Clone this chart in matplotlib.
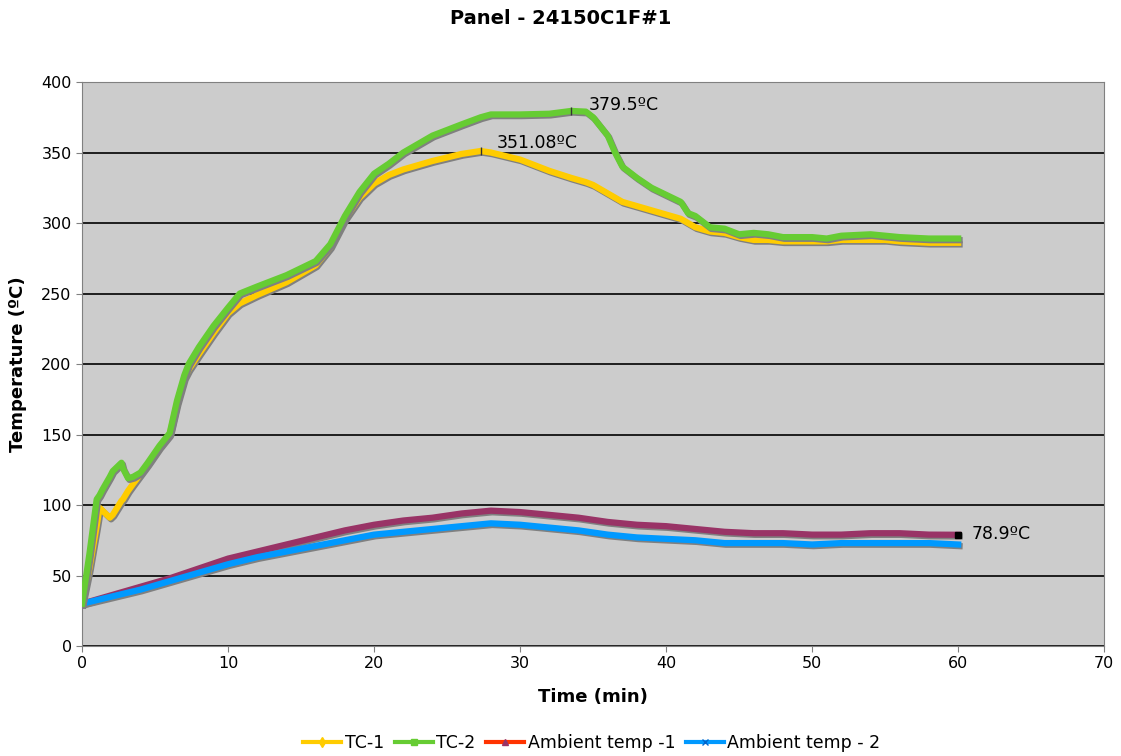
import matplotlib.pyplot as plt
import matplotlib.patheffects as pe
from matplotlib.lines import Line2D

# time (min) and temperatures
t_tc = [0, 0.5, 1.0, 1.2, 1.4, 1.9, 2.1, 2.4, 2.7, 2.8, 3.15, 3.5, 4.0, 4.5, 5.3, 6.0, 6.5, 7.0,
        7.3, 8, 9, 10, 10.8, 12, 14, 16, 17, 18, 19, 20, 21, 22, 24, 26, 27.3, 28, 30, 32,
        33.5, 34.5, 35, 36, 36.5, 37, 38, 39, 40, 41, 41.5, 42, 43, 44, 45, 46, 47, 48, 50,
        51, 52, 54, 55, 56, 58, 60]
tc1 = [30, 55, 85, 98, 96, 91, 93, 98, 103, 104, 110, 115, 122, 129, 141, 150, 172, 190,
       196, 207, 222, 236, 243, 249, 258, 270, 283, 303, 318, 328, 334, 338, 344, 349, 351.08, 350, 345, 337,
       332, 329, 327, 321, 318, 315, 312, 309, 306, 303, 300, 297, 294, 293, 290, 288, 288, 287, 287,
       287, 288, 288, 288, 287, 286, 286]
tc2 = [30, 65, 104, 107, 111, 120, 124, 127, 130, 126, 119, 120, 123, 130, 142, 151, 174, 192,
       200, 212, 227, 240, 250, 255, 263, 273, 285, 305, 322, 335, 342, 350, 362, 370, 375, 377, 377, 377.5,
       379.5, 379, 375, 362, 350, 340, 332, 325, 320, 315, 307, 305, 297, 296, 292, 293, 292, 290, 290,
       289, 291, 292, 291, 290, 289, 289]

t_amb = [0, 2, 4, 6, 8, 10, 12, 14, 16, 18, 20, 22, 24, 26, 28, 30, 32, 34, 36, 38, 40, 42,
         44, 46, 48, 50, 52, 54, 56, 58, 60]
amb1 = [30, 36, 42, 48, 55, 62, 67, 72, 77, 82, 86, 89, 91, 94, 96, 95, 93, 91, 88, 86, 85, 83,
        81, 80, 80, 79, 79, 80, 80, 79, 78.9]
amb2 = [30, 35, 40, 46, 52, 58, 63, 67, 71, 75, 79, 81, 83, 85, 87, 86, 84, 82, 79, 77, 76, 75,
        73, 73, 73, 72, 73, 73, 73, 73, 72]

fig = plt.figure(figsize=(11.21, 7.56), dpi=100)
ax = fig.add_axes([0.0732, 0.1455, 0.9118, 0.746])
ax.set_facecolor('#cccccc')

shadow = [pe.SimpleLineShadow(offset=(1, -1.2), shadow_color='#808080', alpha=1.0), pe.Normal()]
ax.plot(t_amb, amb1, color='#993366', lw=4.5, path_effects=shadow, zorder=3)
ax.plot(t_amb, amb2, color='#0099ff', lw=4.5, path_effects=shadow, zorder=4)
ax.plot(t_tc, tc1, color='#ffcc00', lw=4.5, path_effects=shadow, zorder=5)
ax.plot(t_tc, tc2, color='#66cc33', lw=4.5, path_effects=shadow, zorder=6)

# data labels
ax.plot([33.5], [379.5], marker='|', color='#333333', ms=6, zorder=7)
ax.text(34.7, 384, '379.5ºC', fontsize=12.5, va='center', zorder=8)
ax.plot([27.3], [351.08], marker='|', color='#333333', ms=6, zorder=7)
ax.text(28.4, 357, '351.08ºC', fontsize=12.5, va='center', zorder=8)
ax.plot([60], [79], marker='s', color='black', ms=5, zorder=7)
ax.text(60.9, 79.5, '78.9ºC', fontsize=12.5, va='center', zorder=8)

ax.set_xlim(0, 70)
ax.set_ylim(0, 400)
ax.set_xticks(range(0, 71, 10))
ax.set_yticks(range(0, 401, 50))
ax.yaxis.grid(True, color='black', lw=1.2)
ax.set_axisbelow(True)
ax.tick_params(labelsize=11.5, direction='out', length=4, color='#808080')
for s in ['top', 'right', 'left', 'bottom']:
    ax.spines[s].set_color('#808080')

fig.text(0.5, 0.976, 'Panel - 24150C1F#1', fontsize=14, fontweight='bold', ha='center', va='center')
ax.set_xlabel('Time (min)', fontsize=13, fontweight='bold', labelpad=12)
ax.set_ylabel('Temperature (ºC)', fontsize=13, fontweight='bold', labelpad=10)

handles = [
    Line2D([], [], color='#ffcc00', lw=3, marker='d', ms=5, mfc='#ffcc00'),
    Line2D([], [], color='#66cc33', lw=3, marker='s', ms=4, mfc='#66cc33'),
    Line2D([], [], color='#ff3300', lw=3, marker='^', ms=5, mfc='#993366', mec='#993366'),
    Line2D([], [], color='#0099ff', lw=3, marker='x', ms=5, mec='#0066cc'),
]
fig.legend(handles, ['TC-1', 'TC-2', 'Ambient temp -1', 'Ambient temp - 2'],
           loc='center', bbox_to_anchor=(0.528, 0.017), ncol=4, frameon=False,
           fontsize=12.5, handlelength=2.2, handletextpad=0.2, columnspacing=0.6)

fig.savefig('out.png', dpi=100)
